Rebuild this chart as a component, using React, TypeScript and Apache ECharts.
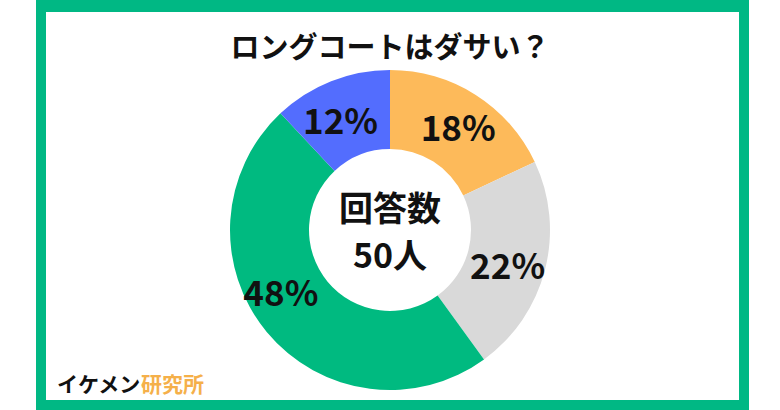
import React, { useEffect, useRef } from "react";
import * as echarts from "echarts";

const titleText = "ロングコートはダサい？";
const categories = ["はい", "どちらかといえばはい", "いいえ", "どちらかといえばいいえ"];
const values = [18, 22, 48, 12];
const colors = ["#FDBA5A", "#D9D9D9", "#00BA80", "#536DFE"];
const centerLines = ["回答数", "50人"];
const brandBlack = "イケメン";
const brandOrange = "研究所";

const FONT = "'Noto Sans CJK JP', 'Noto Sans', sans-serif";
const labelOffsets: [number, number][] = [[2, 0], [-2, 3], [-14, -18], [-4, 3]];

export default function App() {
  const ref = useRef<HTMLDivElement>(null);
  useEffect(() => {
    if (!ref.current) return;
    const chart = echarts.init(ref.current, undefined, { renderer: "svg" });
    chart.setOption({
      animation: false,
      backgroundColor: "#ffffff",
      textStyle: { fontFamily: FONT },
      title: {
        text: titleText,
        left: "center",
        top: 25,
        textStyle: { fontSize: 29, fontWeight: "bold", color: "#111", fontFamily: FONT },
      },
      graphic: [
        {
          type: "rect",
          shape: { x: 41, y: -0, width: 703, height: 405 },
          style: { fill: "none", stroke: "#00B884", lineWidth: 10 },
          z: 0,
        },
        {
          type: "rect",
          shape: { x: 36, y: 0, width: 713, height: 12 },
          style: { fill: "#00B884" },
        },
        {
          type: "text",
          x: 390,
          y: 206,
          style: {
            text: centerLines[0],
            fontSize: 34,
            fontWeight: "bold",
            fontFamily: FONT,
            fill: "#111",
            textAlign: "center",
            textVerticalAlign: "middle",
          },
          z: 10,
        },
        {
          type: "text",
          x: 390,
          y: 253,
          style: {
            text: centerLines[1],
            fontSize: 34,
            fontWeight: "bold",
            fontFamily: FONT,
            fill: "#111",
            textAlign: "center",
            textVerticalAlign: "middle",
          },
          z: 10,
        },
        {
          type: "text",
          x: 57,
          y: 383,
          style: {
            text: `{a|${brandBlack}}{b|${brandOrange}}`,
            textVerticalAlign: "middle",
            rich: {
              a: { fontSize: 21, fontWeight: "bold", fontFamily: FONT, fill: "#111" },
              b: { fontSize: 21, fontWeight: "bold", fontFamily: FONT, fill: "#F5B04A" },
            },
          },
          z: 10,
        },
      ],
      series: [
        {
          type: "pie",
          center: [390, 230],
          radius: [81, 160],
          startAngle: 90,
          clockwise: true,
          silent: true,
          label: {
            show: true,
            position: "inside",
            formatter: "{c}%",
            fontSize: 35,
            fontWeight: "bold",
            fontFamily: FONT,
            color: "#111",
          },
          labelLine: { show: false },
          itemStyle: { borderWidth: 0 },
          data: categories.map((name, i) => ({
            name,
            value: values[i],
            itemStyle: { color: colors[i] },
            label: { offset: labelOffsets[i] },
          })),
        },
      ],
    });
    return () => chart.dispose();
  }, []);
  return (
    <div
      ref={ref}
      style={{ position: "absolute", left: 0, top: 0, width: 780, height: 410 }}
    />
  );
}
